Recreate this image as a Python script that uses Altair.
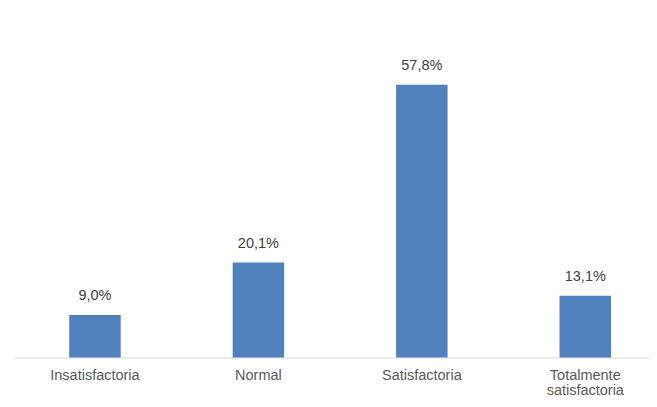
import altair as alt
import pandas as pd

categories = ["Insatisfactoria", "Normal", "Satisfactoria", "Totalmente satisfactoria"]
values = [9.0, 20.1, 57.8, 13.1]

df = pd.DataFrame({"cat": categories, "val": values})

x_enc = alt.X(
    "cat:N",
    sort=categories,
    title=None,
    scale=alt.Scale(paddingInner=0.685, paddingOuter=0.3425, range=[0, 654]),
    axis=alt.Axis(
        labelAngle=0,
        ticks=False,
        grid=False,
        domainColor="#d9d9d9",
        domainWidth=1,
        labelColor="#595959",
        labelFont="Liberation Sans",
        labelFontSize=14.5,
        labelPadding=11,
        labelLineHeight=15,
        labelBaseline="top",
        labelExpr="datum.label == 'Totalmente satisfactoria' ? ['Totalmente', 'satisfactoria'] : datum.label",
    ),
)
y_enc = alt.Y("val:Q", title=None, scale=alt.Scale(domain=[0, 60], nice=False), axis=None)

base = alt.Chart(df).encode(x=x_enc, y=y_enc)

bars = base.mark_bar(color="#4F81BD")
text = base.mark_text(
    dy=-12, baseline="bottom", font="Liberation Sans", fontSize=14.5, color="#404040"
).transform_calculate(
    lbl="replace(format(datum.val, '.1f'), '.', ',') + '%'"
).encode(text="lbl:N")

chart = (
    (bars + text)
    .properties(
        width=636,
        height=283.2,
        background="white",
        autosize=alt.AutoSizeParams(type="none"),
        padding={"left": 5.25, "top": 66.3, "right": 0, "bottom": 41.4},
    )
    .configure_view(strokeWidth=0)
)

chart.save("out.html", embed_options={"renderer": "svg", "actions": False})
